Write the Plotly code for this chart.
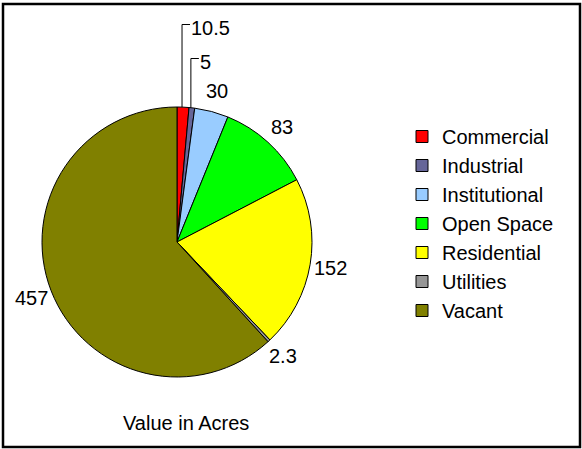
import math
import plotly.graph_objects as go

# ---- data ----
categories = ["Commercial", "Industrial", "Institutional", "Open Space",
              "Residential", "Utilities", "Vacant"]
values = [10.5, 5, 30, 83, 152, 2.3, 457]
value_labels = ["10.5", "5", "30", "83", "152", "2.3", "457"]
colors = ["#FF0000", "#666699", "#99CCFF", "#00FF00", "#FFFF00", "#969696", "#808000"]
title_text = "Value in Acres"

# ---- layout geometry (pixels) ----
W, H = 582, 449
CX, CY, R = 177, 242, 135          # pie centre and radius
LABEL_DIST = 156                   # distance of label centre from pie centre
FONT = "Liberation Sans, Arial, sans-serif"
# small slices whose labels are lifted up with elbow leader lines: label y (px)
lifted = {"Commercial": 28, "Industrial": 62}

def px(x):
    return x / W

def py(y):
    return 1 - y / H

fig = go.Figure(go.Pie(
    labels=categories,
    values=values,
    sort=False,
    direction="clockwise",
    rotation=0,
    textinfo="none",
    hoverinfo="label+value",
    marker=dict(colors=colors, line=dict(color="#000000", width=1)),
    domain=dict(x=[px(CX - R), px(CX + R)], y=[py(CY + R), py(CY - R)]),
))

annotations = []
shapes = []
total = sum(values)
cum = 0.0
for cat, v, lab in zip(categories, values, value_labels):
    mid = (cum + v / 2) / total * 2 * math.pi
    cum += v
    sx, sy = math.sin(mid), -math.cos(mid)
    if cat in lifted:
        ex, ey = CX + R * sx - 1, CY + R * sy
        ly = lifted[cat]
        hx = ex + 8
        shapes.append(dict(type="path", xref="paper", yref="paper",
                           path=f"M {px(ex)} {py(ey)} L {px(ex)} {py(ly - 3.5)} L {px(hx)} {py(ly - 3.5)}",
                           line=dict(color="#000000", width=1)))
        annotations.append(dict(x=px(hx + 1), y=py(ly), xref="paper", yref="paper",
                                text=lab, showarrow=False, xanchor="left", yanchor="middle",
                                xshift=-2,
                                font=dict(family=FONT, size=20, color="#000000")))
    else:
        lx, ly = CX + LABEL_DIST * sx, CY + LABEL_DIST * sy
        annotations.append(dict(x=px(lx), y=py(ly), xref="paper", yref="paper",
                                text=lab, showarrow=False, xanchor="center", yanchor="middle",
                                font=dict(family=FONT, size=20, color="#000000")))

annotations.append(dict(x=px(185.5), y=py(423), xref="paper", yref="paper",
                        text=title_text, showarrow=False, xanchor="center", yanchor="middle",
                        font=dict(family=FONT, size=20, color="#000000")))

# outer frame
shapes.append(dict(type="rect", xref="paper", yref="paper",
                   x0=px(3), x1=px(580), y0=py(447), y1=py(4),
                   line=dict(color="#000000", width=2.5), fillcolor="rgba(0,0,0,0)"))

fig.update_layout(
    width=W, height=H,
    margin=dict(l=0, r=0, t=0, b=0),
    paper_bgcolor="#FFFFFF",
    plot_bgcolor="#FFFFFF",
    showlegend=True,
    legend=dict(x=px(402), y=py(117), xanchor="left", yanchor="top",
                font=dict(family=FONT, size=20, color="#000000"),
                bgcolor="rgba(0,0,0,0)", borderwidth=0, traceorder="normal"),
    annotations=annotations,
    shapes=shapes,
    font=dict(family=FONT),
)

fig.write_html("out.html", config={"displayModeBar": False},
               post_script="document.body.style.margin='0';document.body.style.overflow='hidden';")
